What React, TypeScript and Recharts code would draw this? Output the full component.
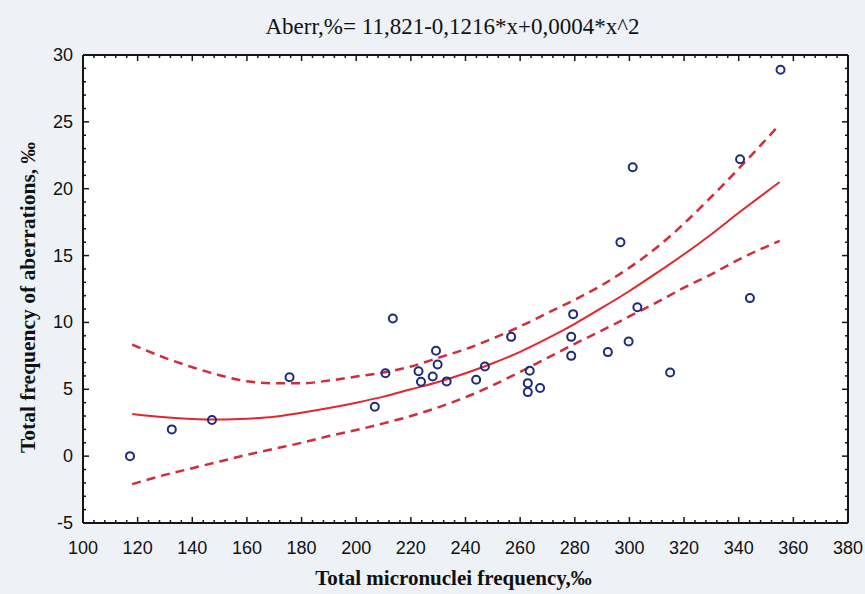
import React from "react"
import {
  CartesianGrid,
  ComposedChart,
  Line,
  Scatter,
  XAxis,
  YAxis,
} from "recharts"

// observed samples: micronuclei (x) vs aberrations (y)
const micronuclei = [
  117.2, 132.5, 147.2, 175.6, 206.8, 210.7, 213.4, 222.8, 223.7, 228, 229.2,
  229.8, 233.1, 243.9, 247.1, 256.7, 262.8, 262.8, 263.5, 267.3, 278.7, 278.7,
  279.4, 292.1, 296.7, 299.7, 301.2, 302.9, 314.9, 340.5, 344.1, 355.3,
]
const aberrations = [
  0, 2.0, 2.7, 5.9, 3.7, 6.2, 10.3, 6.35, 5.56, 5.96, 7.88, 6.86, 5.59, 5.71,
  6.71, 8.92, 5.46, 4.79, 6.38, 5.09, 8.92, 7.5, 10.62, 7.78, 16.0, 8.58, 21.6,
  11.14, 6.26, 22.2, 11.82, 28.9,
]

// regression curve and 95% band
const fitX = [
  118, 130, 140, 150, 160, 170, 180, 190, 200, 210, 220, 230, 240, 250, 260,
  270, 280, 290, 300, 310, 320, 330, 340, 355,
]
const fitMid = [
  3.15, 2.9, 2.78, 2.74, 2.8, 2.95, 3.25, 3.6, 4.0, 4.45, 5.0, 5.55, 6.2, 6.95,
  7.8, 8.8, 9.9, 11.1, 12.35, 13.7, 15.1, 16.6, 18.2, 20.5,
]
const fitUpper = [
  8.35, 7.35, 6.65, 6.05, 5.6, 5.45, 5.45, 5.65, 5.95, 6.25, 6.7, 7.35, 8.0,
  8.8, 9.7, 10.7, 11.7, 12.8, 14.1, 15.6, 17.4, 19.4, 21.5, 24.8,
]
const fitLower = [
  -2.1, -1.4, -0.9, -0.4, 0.1, 0.55, 1.0, 1.5, 1.95, 2.45, 3.0, 3.65, 4.4, 5.3,
  6.3, 7.35, 8.4, 9.4, 10.45, 11.5, 12.6, 13.6, 14.7, 16.1,
]

const xTicks = [100, 120, 140, 160, 180, 200, 220, 240, 260, 280, 300, 320, 340, 360, 380]
const yTicks = [-5, 0, 5, 10, 15, 20, 25, 30]

const xMinor: number[] = []
for (let v = 100; v <= 380; v += 4) xMinor.push(v)
const yMinor: number[] = []
for (let v = -5; v <= 30; v += 1) yMinor.push(v)

const points = micronuclei.map((x, i) => ({ x, y: aberrations[i] }))
const mid = fitX.map((x, i) => ({ x, y: fitMid[i] }))
const upper = fitX.map((x, i) => ({ x, y: fitUpper[i] }))
const lower = fitX.map((x, i) => ({ x, y: fitLower[i] }))

const tickFont = "'Liberation Sans Narrow', 'Liberation Sans', Arial, sans-serif"
const serif = "'Liberation Serif', 'Times New Roman', serif"
const frame = "#151515"

function BottomTick({ x, y, payload }: any) {
  const major = xTicks.includes(payload.value)
  return (
    <g>
      <line x1={x} x2={x} y1={y} y2={y - (major ? 6 : 3)} stroke={frame} strokeWidth={1.5} />
      {major && (
        <text x={x} y={y + 25} textAnchor="middle" dominantBaseline="central" fontFamily={tickFont} fontSize={18} fill="#111">
          {payload.value}
        </text>
      )}
    </g>
  )
}

function TopTick({ x, y, payload }: any) {
  const major = xTicks.includes(payload.value)
  return <line x1={x} x2={x} y1={y} y2={y + (major ? 6 : 3)} stroke={frame} strokeWidth={1.5} />
}

function LeftTick({ x, y, payload }: any) {
  const major = yTicks.includes(payload.value)
  return (
    <g>
      <line x1={x} x2={x + (major ? 6 : 3)} y1={y} y2={y} stroke={frame} strokeWidth={1.5} />
      {major && (
        <text x={x - 10} y={y} textAnchor="end" dominantBaseline="central" fontFamily={tickFont} fontSize={18} fill="#111">
          {payload.value}
        </text>
      )}
    </g>
  )
}

function RightTick({ x, y, payload }: any) {
  const major = yTicks.includes(payload.value)
  return <line x1={x} x2={x - (major ? 6 : 3)} y1={y} y2={y} stroke={frame} strokeWidth={1.5} />
}

function Ring({ cx, cy }: any) {
  return <circle cx={cx} cy={cy} r={4} fill="none" stroke="#1c2b7c" strokeWidth={2} />
}

function Nothing() {
  return <g />
}

export default function App() {
  return (
    <div
      style={{
        position: "fixed",
        left: 0,
        top: 0,
        width: 865,
        height: 594,
        overflow: "hidden",
        background: "#eef2f6",
      }}
    >
      <div
        style={{
          position: "absolute",
          left: 0,
          width: 865,
          paddingLeft: 40,
          boxSizing: "border-box",
          top: 14,
          textAlign: "center",
          fontFamily: serif,
          fontSize: 23,
          color: "#111",
        }}
      >
        Aberr,%= 11,821-0,1216*x+0,0004*x^2
      </div>
      <div
        style={{
          position: "absolute",
          left: 0,
          width: 865,
          paddingLeft: 42,
          boxSizing: "border-box",
          top: 566,
          textAlign: "center",
          fontFamily: serif,
          fontWeight: "bold",
          fontSize: 21,
          color: "#111",
        }}
      >
        Total micronuclei frequency,‰
      </div>
      <div
        style={{
          position: "absolute",
          left: 28,
          top: 298,
          width: 400,
          marginLeft: -200,
          marginTop: -13,
          textAlign: "center",
          transform: "rotate(-90deg)",
          fontFamily: serif,
          fontWeight: "bold",
          fontSize: 21.5,
          color: "#111",
        }}
      >
        Total frequency of aberrations, ‰
      </div>
      <ComposedChart
        width={865}
        height={594}
        margin={{ top: 54, right: 16, bottom: 0, left: 0 }}
        style={{ position: "absolute", left: 0, top: 0 }}
      >
        <CartesianGrid horizontal={false} vertical={false} fill="#ffffff" />
        <XAxis
          dataKey="x"
          type="number"
          domain={[100, 380]}
          ticks={xMinor}
          interval={0}
          height={71}
          tickSize={0}
          tickMargin={0}
          tickLine={false}
          tick={<BottomTick />}
          axisLine={{ stroke: frame, strokeWidth: 2 }}
        />
        <XAxis
          xAxisId="top"
          dataKey="x"
          orientation="top"
          type="number"
          domain={[100, 380]}
          ticks={xMinor}
          interval={0}
          height={1}
          tickSize={0}
          tickMargin={0}
          tickLine={false}
          tick={<TopTick />}
          axisLine={{ stroke: frame, strokeWidth: 2 }}
        />
        <YAxis
          dataKey="y"
          type="number"
          domain={[-5, 30]}
          ticks={yMinor}
          interval={0}
          width={83}
          tickSize={0}
          tickMargin={0}
          tickLine={false}
          tick={<LeftTick />}
          axisLine={{ stroke: frame, strokeWidth: 2 }}
        />
        <YAxis
          yAxisId="right"
          dataKey="y"
          orientation="right"
          type="number"
          domain={[-5, 30]}
          ticks={yMinor}
          interval={0}
          width={1}
          tickSize={0}
          tickMargin={0}
          tickLine={false}
          tick={<RightTick />}
          axisLine={{ stroke: frame, strokeWidth: 2 }}
        />
        <Scatter xAxisId="top" yAxisId="right" data={points} dataKey="y" shape={<Nothing />} isAnimationActive={false} />
        <Line data={upper} dataKey="y" type="monotone" stroke="#d12c3a" strokeWidth={2.5} strokeDasharray="9 6" dot={false} isAnimationActive={false} />
        <Line data={lower} dataKey="y" type="monotone" stroke="#d12c3a" strokeWidth={2.5} strokeDasharray="9 6" dot={false} isAnimationActive={false} />
        <Line data={mid} dataKey="y" type="monotone" stroke="#e3262d" strokeWidth={2} dot={false} isAnimationActive={false} />
        <Scatter data={points} dataKey="y" shape={<Ring />} isAnimationActive={false} />
      </ComposedChart>
    </div>
  )
}
